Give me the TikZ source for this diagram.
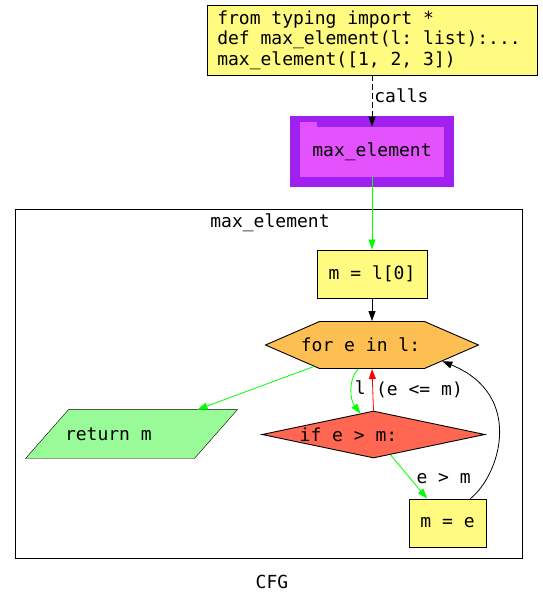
\documentclass[tikz,border=0pt]{standalone}
\usepackage{fontspec}
\setmonofont{DejaVu Sans Mono}
\usetikzlibrary{shapes.geometric,shapes.symbols,arrows.meta,backgrounds}
\definecolor{codefill}{HTML}{FFFB80}
\definecolor{fnouter}{HTML}{A020F0}
\definecolor{fninner}{HTML}{E352FC}
\definecolor{loopfill}{HTML}{FDBE52}
\definecolor{iffill}{HTML}{FF6752}
\definecolor{retfill}{HTML}{98FB98}
\definecolor{edgegreen}{HTML}{00FF00}
\newcommand{\lefttext}[2]{\makebox[0pt]{#2\hspace{#1}}}
\begin{document}
\begin{tikzpicture}[x=1pt,y=-1pt,line width=0.9pt,
  font=\ttfamily\fontsize{18}{20.5}\selectfont,
  tip/.style={-{Triangle[length=10pt,width=7pt]}},
  stmt/.style={rectangle,draw,fill=codefill,inner sep=0pt},
  greenedge/.style={tip,draw=edgegreen,line width=0.8pt},
  blackedge/.style={tip,draw=black,line width=0.8pt}]
\useasboundingbox (0,0) rectangle (543,605);
% call site and function
\node [stmt,align=left,minimum width=330pt,minimum height=70pt] (code) at (372,40)
  {from typing import *\\def max\_element(l: list):...\kern6pt\\max\_element([1, 2, 3])};
\fill [fnouter] (290,116) rectangle (454,187);
\fill [fninner] (300,122) rectangle (317,128);
\node [rectangle,fill=fninner,minimum width=144pt,minimum height=50pt,inner sep=0pt] (fn) at (372,152) {max\_element};
% cluster
\draw [line width=0.8pt] (15,209) rectangle (522,558);
\node (cluster) at (270,223) {max\_element};
% cfg nodes
\node [stmt,minimum width=110pt,minimum height=48pt] (init) at (372,274) {m = l[0]};
\node [signal,signal to=east and west,signal pointer angle=47,draw,fill=loopfill,
  minimum width=213pt,minimum height=47pt,inner sep=0pt] (loop) at (372,345) {\lefttext{23pt}{for e in l:}};
\node [rectangle,minimum width=211pt,minimum height=48pt,inner sep=0pt] (ret) at (131.5,434) {\makebox[133pt][l]{return m}};
\begin{scope}[on background layer]
\filldraw [fill=retfill] ([xshift=43pt]ret.north west) -- (ret.north east) -- ([xshift=-43pt]ret.south east) -- (ret.south west) -- cycle;
\end{scope}
\node [diamond,draw,fill=iffill,minimum width=223pt,minimum height=47pt,inner sep=0pt] (cond) at (373.5,434.5) {\lefttext{50pt}{if e > m:}};
\node [stmt,minimum width=77pt,minimum height=48pt] (upd) at (447.5,523) {m = e};
\node (title) at (272,582) {CFG};
% edges
\draw [blackedge,dash pattern=on 6pt off 3pt] (code) -- (fn) node [pos=0.4,right,inner sep=2pt] {calls};
\draw [greenedge] (fn) -- (init);
\draw [blackedge] (init) -- (loop);
\draw [greenedge] (loop) -- (ret);
\draw [greenedge] ([xshift=-14pt]loop.south) .. controls (348,380) and (350,400) .. ([xshift=-13pt,yshift=-3pt]cond.north)
  node [pos=0.45,right,inner sep=3pt] {l};
\draw [tip,draw=red,line width=0.8pt] (cond.north) -- (loop.south)
  node [midway,right,inner sep=3pt] {(e <= m)};
\draw [greenedge] (cond) -- (upd) node [midway,right,xshift=4pt,yshift=-2pt] {e > m};
\draw [blackedge] ([xshift=-16pt]upd.north east) .. controls (500,475) and (525,395) .. (loop.-13);
\end{tikzpicture}
\end{document}
